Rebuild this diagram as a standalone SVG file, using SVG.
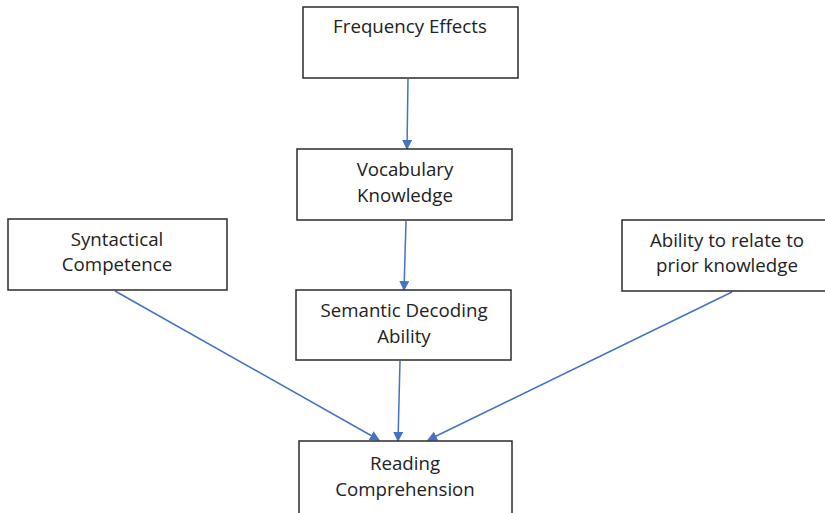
<svg xmlns="http://www.w3.org/2000/svg" width="825" height="513" viewBox="0 0 825 513">
<style>
.box{fill:#fff;stroke:#2b2b2b;stroke-width:1.5}
.t{font-family:"Open Sans","Liberation Sans",Arial,sans-serif;font-size:18.7px;fill:#222;text-anchor:middle}
.c{stroke:#4472C4;stroke-width:1.5;fill:none;marker-end:url(#ah)}
</style>
<defs>
<marker id="ah" markerWidth="10" markerHeight="10" refX="9" refY="5" orient="auto" markerUnits="userSpaceOnUse">
<path d="M0,0 L10,5 L0,10 Z" fill="#4472C4"/>
</marker>
</defs>
<rect width="825" height="513" fill="#fff"/>
<g id="connectors">
<line class="c" x1="408" y1="79" x2="407" y2="149"/>
<line class="c" x1="406" y1="221" x2="404" y2="290"/>
<line class="c" x1="115" y1="291" x2="379" y2="440"/>
<line class="c" x1="400" y1="361" x2="398" y2="441"/>
<line class="c" x1="732" y1="292" x2="428" y2="440"/>
</g>
<g id="frequency">
<rect class="box" x="303" y="7" width="215" height="71"/>
<text class="t" x="410" y="33">Frequency Effects</text>
</g>
<g id="vocabulary">
<rect class="box" x="297" y="149" width="215" height="71"/>
<text class="t" x="405" y="176">Vocabulary</text>
<text class="t" x="405" y="202">Knowledge</text>
</g>
<g id="syntactical">
<rect class="box" x="8" y="219" width="219" height="71"/>
<text class="t" x="117" y="246">Syntactical</text>
<text class="t" x="117" y="271">Competence</text>
</g>
<g id="semantic">
<rect class="box" x="296" y="290" width="215" height="70"/>
<text class="t" x="404" y="317">Semantic Decoding</text>
<text class="t" x="404" y="343">Ability</text>
</g>
<g id="ability">
<rect class="box" x="622" y="220" width="210" height="71"/>
<text class="t" x="727" y="247">Ability to relate to</text>
<text class="t" x="727" y="272">prior knowledge</text>
</g>
<g id="reading">
<rect class="box" x="299" y="441" width="213" height="80"/>
<text class="t" x="405" y="470">Reading</text>
<text class="t" x="405" y="496">Comprehension</text>
</g>
</svg>
